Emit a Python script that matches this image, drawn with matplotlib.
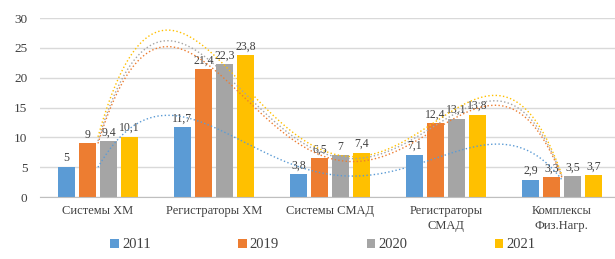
import numpy as np
import matplotlib
matplotlib.use('Agg')
import matplotlib.pyplot as plt

# данные
categories = ['Системы ХМ', 'Регистраторы ХМ', 'Системы СМАД', 'Регистраторы\nСМАД', 'Комплексы\nФиз.Нагр.']
years = ['2011', '2019', '2020', '2021']
v2011 = [5, 11.7, 3.8, 7.1, 2.9]
v2019 = [9, 21.4, 6.5, 12.4, 3.3]
v2020 = [9.4, 22.3, 7, 13.1, 3.5]
v2021 = [10.1, 23.8, 7.4, 13.8, 3.7]
yticks = [0, 5, 10, 15, 20, 25, 30]

series = [v2011, v2019, v2020, v2021]
colors = ['#5B9BD5', '#ED7D31', '#A5A5A5', '#FFC000']

plt.rcParams['font.family'] = ['Liberation Serif', 'DejaVu Serif']

fig = plt.figure(figsize=(6.15, 2.59), dpi=100)
ax = fig.add_axes([0.065, 0.239, 0.943, 0.691])

x = np.arange(len(categories))
step = 0.181
width = 0.146

for i, (vals, col, yr) in enumerate(zip(series, colors, years)):
    pos = x + (i - 1.5) * step
    bars = ax.bar(pos, vals, width=width, color=col, label=yr, zorder=2)
    labels = [str(v).replace('.', ',') for v in vals]
    ax.bar_label(bars, labels=labels, padding=2, fontsize=8.5, color='#404040')

# полиномиальные линии тренда (как в Excel, степень 4)
xs = np.linspace(0, len(categories) - 1, 200)
for vals, col in zip(series, colors):
    coef = np.polyfit(x, vals, 4)
    ax.plot(xs, np.polyval(coef, xs), linestyle=':', color=col, linewidth=1.0, zorder=3)

ax.set_xlim(-0.5, 4.5)
ax.set_ylim(0, 30)
ax.set_yticks(yticks)
ax.set_xticks(x)
ax.set_xticklabels(categories, fontsize=9, color='#404040', linespacing=1.3)
ax.tick_params(axis='y', length=0, pad=9, labelsize=9.5, colors='#404040')
ax.tick_params(axis='x', length=0, pad=6)
ax.grid(True, axis='y', color='#D9D9D9', linewidth=1, zorder=0)
ax.set_axisbelow(True)
for s in ['top', 'right', 'left']:
    ax.spines[s].set_visible(False)
ax.spines['bottom'].set_color('#BFBFBF')

fig.legend(loc='center', bbox_to_anchor=(0.525, 1 - 245 / 259), ncol=4, frameon=False,
           fontsize=10.5, handlelength=0.6, handleheight=0.6, handletextpad=0.2,
           columnspacing=6.0, labelcolor='#404040')

plt.savefig('out.png', dpi=100)
